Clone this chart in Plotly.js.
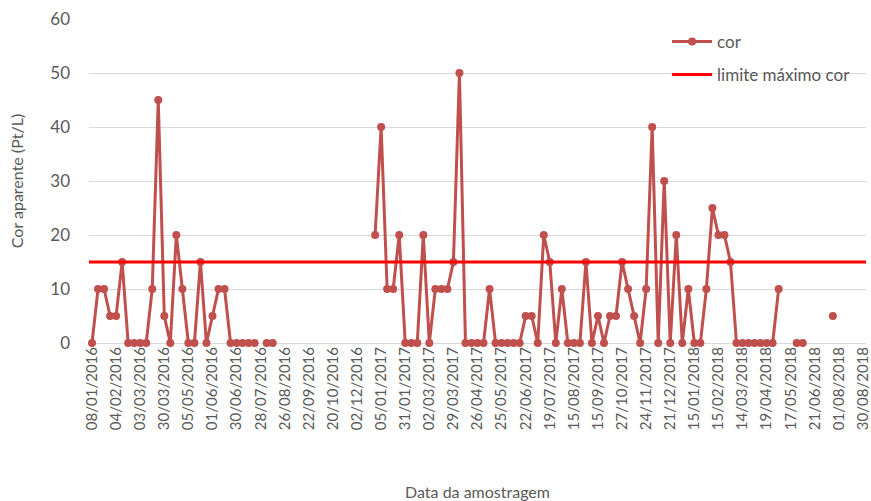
<!DOCTYPE html>
<html>
<head>
<meta charset="utf-8">
<script src="https://cdn.plot.ly/plotly-3.0.1.min.js"></script>
<style>html,body{margin:0;padding:0;background:#fff;}#chart{width:871px;height:501px;}</style>
</head>
<body>
<div id="chart"></div>
<script>
// Tick labels (every 4th sampling date on the category axis)
const tickLabels = ["08/01/2016","04/02/2016","03/03/2016","30/03/2016","05/05/2016","01/06/2016","30/06/2016","28/07/2016","26/08/2016","22/09/2016","20/10/2016","02/12/2016","05/01/2017","31/01/2017","02/03/2017","29/03/2017","26/04/2017","25/05/2017","22/06/2017","19/07/2017","15/08/2017","15/09/2017","27/10/2017","24/11/2017","21/12/2017","15/01/2018","15/02/2018","14/03/2018","19/04/2018","17/05/2018","21/06/2018","01/08/2018","30/08/2018"];
const labelStep = 4;

// Cor aparente (Pt/L), one value per sample (null = no sample value)
const cor = [
  0,10,10,5,5,15,0,0,0,0,
  10,45,5,0,20,10,0,0,15,0,
  5,10,10,0,0,0,0,0,null,0,
  0,null,null,null,null,null,null,null,null,null,
  null,null,null,null,null,null,null,20,40,10,
  10,20,0,0,0,20,0,10,10,10,
  15,50,0,0,0,0,10,0,0,0,
  0,0,5,5,0,20,15,0,10,0,
  0,0,15,0,5,0,5,5,15,10,
  5,0,10,40,0,30,0,20,0,10,
  0,0,10,25,20,20,15,0,0,0,
  0,0,0,0,10,null,null,0,0,null,
  null,null,null,5,null,null,null,null,null
];

// Maximum allowed colour
const limite = 15;

const idx = cor.map((_, i) => i);
const xRange = [-0.5, cor.length - 0.5];
const tickVals = tickLabels.map((_, k) => k * labelStep);

const textColor = '#595959';
const fontFam = 'Lato, "Open Sans", sans-serif';

const traces = [
  {
    x: idx, y: cor, type: 'scatter', mode: 'lines+markers', name: 'cor',
    line: {color: '#C0504D', width: 3},
    marker: {color: '#C0504D', size: 8},
    connectgaps: false, cliponaxis: false, legend: 'legend'
  },
  {
    x: xRange, y: [limite, limite], type: 'scatter', mode: 'lines',
    name: 'limite máximo cor',
    line: {color: '#FF0000', width: 3},
    cliponaxis: false, legend: 'legend2'
  }
];

const legendCommon = {
  font: {family: fontFam, size: 17, color: textColor},
  bgcolor: 'rgba(0,0,0,0)', itemwidth: 40,
  xanchor: 'left', yanchor: 'middle', x: 0.744
};

const layout = {
  width: 871, height: 501,
  margin: {l: 89, r: 5, t: 19, b: 158},
  paper_bgcolor: '#fff', plot_bgcolor: '#fff',
  font: {family: fontFam, color: textColor},
  showlegend: true,
  legend: Object.assign({}, legendCommon, {y: 0.929}),
  legend2: Object.assign({}, legendCommon, {y: 0.827}),
  xaxis: {
    range: xRange, tickmode: 'array', tickvals: tickVals, ticktext: tickLabels,
    tickangle: -90, tickfont: {family: fontFam, size: 15, color: textColor},
    ticklabeloverflow: 'allow',
    showgrid: false, zeroline: false, showline: false, ticks: '',
    automargin: false,
    title: {text: 'Data da amostragem', font: {family: fontFam, size: 16, color: textColor}, standoff: 58}
  },
  yaxis: {
    range: [0, 60], dtick: 10, tick0: 0,
    tickfont: {family: fontFam, size: 17, color: textColor},
    showgrid: true, gridcolor: '#D9D9D9', gridwidth: 1,
    zeroline: true, zerolinecolor: '#D9D9D9', zerolinewidth: 1,
    showline: false, ticks: '', ticklabelstandoff: 18,
    automargin: false,
    title: {text: 'Cor aparente (Pt/L)', font: {family: fontFam, size: 16, color: textColor}, standoff: 22}
  }
};

Plotly.newPlot('chart', traces, layout, {displayModeBar: false, staticPlot: true});
</script>
</body>
</html>
